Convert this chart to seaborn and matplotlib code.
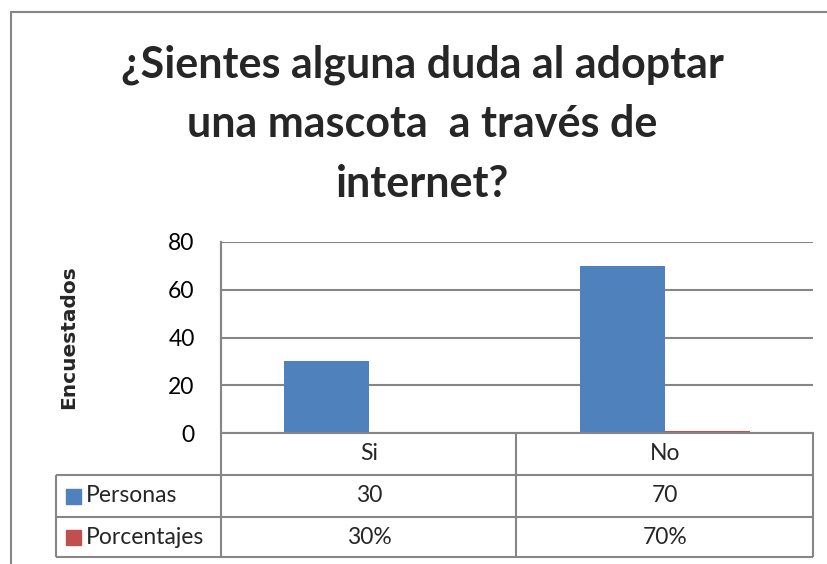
import pandas as pd
import seaborn as sns
import matplotlib.pyplot as plt
from matplotlib.lines import Line2D
from matplotlib.patches import Rectangle

# datos de la encuesta
categorias = ["Si", "No"]
series = ["Personas", "Porcentajes"]
personas = [30, 70]
porcentajes = [0.30, 0.70]
etiquetas_personas = ["30", "70"]
etiquetas_porcentajes = ["30%", "70%"]
colores = ["#4F81BD", "#C0504D"]

titulo = ["¿Sientes alguna duda al adoptar", "una mascota  a través de", "internet?"]

df = pd.DataFrame({
    "categoria": categorias * 2,
    "serie": [series[0]] * 2 + [series[1]] * 2,
    "valor": personas + porcentajes,
})

sns.set_theme(style="white")
plt.rcParams["font.family"] = ["Lato", "DejaVu Sans"]

W, H = 827, 564
fig = plt.figure(figsize=(W / 100, H / 100), dpi=100)
gris = "#868686"
fs = 16.5


def fx(x):
    return x / W


def fy(y):
    return 1 - y / H


def linea(x0, y0, x1, y1, lw=1.5):
    fig.add_artist(Line2D([fx(x0), fx(x1)], [fy(y0), fy(y1)], color=gris, lw=lw,
                          solid_capstyle="butt"))


# marco exterior del grafico
linea(11, 12, 11, H + 5)
linea(10, 12, W + 5, 12)

ax = fig.add_axes([fx(221), fy(433), fx(813) - fx(221), fy(242) - fy(433)])
sns.barplot(data=df, x="categoria", y="valor", hue="serie", palette=colores,
            width=0.574, saturation=1, legend=False, ax=ax, edgecolor="none")

ax.set_ylim(0, 80)
ax.set_yticks([0, 20, 40, 60, 80])
ax.set_xlim(-0.5, 1.5)
ax.yaxis.grid(True, color=gris, lw=1.5)
ax.set_axisbelow(True)
ax.tick_params(axis="y", length=0, pad=19, labelsize=fs, labelcolor="black")
ax.tick_params(axis="x", length=0, labelbottom=False)
ax.set_xlabel("")
ax.set_ylabel("")
for s in ["top", "right"]:
    ax.spines[s].set_visible(False)
for s in ["left", "bottom"]:
    ax.spines[s].set_color(gris)
    ax.spines[s].set_linewidth(1.5)

fig.text(fx(69), fy(337), "Encuestados", rotation=90, ha="center", va="center",
         fontsize=14.5, fontweight="bold", family="DejaVu Sans")

for linea_titulo, yb in zip(titulo, [77, 137, 197]):
    fig.text(fx(422), fy(yb), linea_titulo, ha="center", va="baseline", fontsize=31,
             fontweight="bold")

# tabla de datos bajo el grafico
filas = [433, 475, 517, 557]
linea(221, 242, 221, 557)
linea(516, 433, 516, 557)
linea(813, 433, 813, 557)
linea(56, 475, 56, 557)
for y in filas[1:]:
    linea(56, y, 813, y)

tr = ax.get_xaxis_transform()


def yax(y):
    return -(y - 433) / (433 - 242)


for i, cat in enumerate(categorias):
    ax.text(i, yax(454), cat, transform=tr, ha="center", va="center", fontsize=fs,
            clip_on=False)
    ax.text(i, yax(496), etiquetas_personas[i], transform=tr, ha="center", va="center",
            fontsize=fs, clip_on=False)
    ax.text(i, yax(537), etiquetas_porcentajes[i], transform=tr, ha="center",
            va="center", fontsize=fs, clip_on=False)

for nombre, color, yc in zip(series, colores, [496, 537]):
    fig.add_artist(Rectangle((fx(66), fy(yc + 7.5)), fx(15), 15 / H, color=color))
    fig.text(fx(86), fy(yc), nombre, ha="left", va="center", fontsize=fs)

fig.savefig("out.png", dpi=100)
